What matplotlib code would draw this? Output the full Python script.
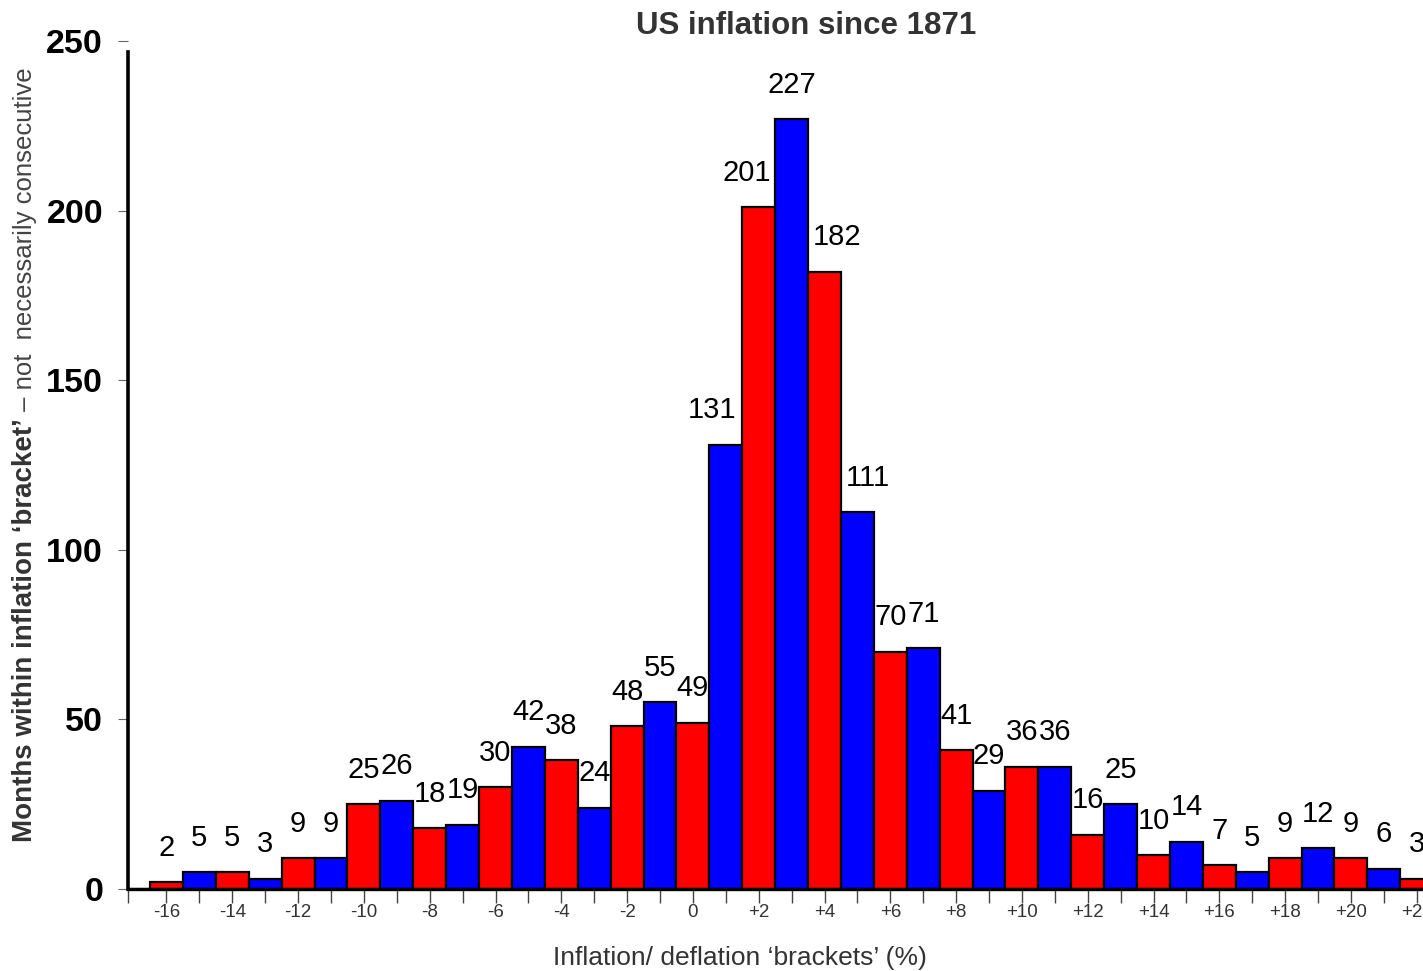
import matplotlib
matplotlib.use("Agg")
import matplotlib.pyplot as plt
from matplotlib.ticker import FixedLocator

plt.rcParams['font.family'] = ['Liberation Sans', 'DejaVu Sans']

# ---- data ----
brackets = list(range(-17, 23))
months = [0, 2, 5, 5, 3, 9, 9, 25, 26, 18, 19, 30, 42, 38, 24, 48, 55, 49,
          131, 201, 227, 182, 111, 70, 71, 41, 29, 36, 36, 16, 25, 10, 14,
          7, 5, 9, 12, 9, 6, 3]
major_ticks = list(range(-16, 23, 2))
major_labels = [("+%d" % v if v > 0 else "%d" % v) for v in major_ticks]
yticks = [0, 50, 100, 150, 200, 250]
title = "US inflation since 1871"
xlabel = "Inflation/ deflation \u2018brackets\u2019 (%)"
ylabel_bold = "Months within inflation \u2018bracket\u2019"
ylabel_reg = " \u2013 not  necessarily consecutive"

# label horizontal nudges (pixels) for crowded peak labels
label_dx = {1: -14, 2: -12, 4: 13, 5: 10}

W, H = 1423, 971
fig = plt.figure(figsize=(W / 100, H / 100), dpi=100)
ax_left, ax_bottom, ax_top = 128, 889, 41
ax = fig.add_axes([ax_left / W, (H - ax_bottom) / H, (W - ax_left) / W,
                   (ax_bottom - ax_top) / H])

colors = ['#0000FF' if (b % 2) else '#FF0000' for b in brackets]
ax.bar(brackets, months, width=1.0, color=colors, edgecolor='black',
       linewidth=1.6, zorder=2)

xmin, xmax = -17.17, 22.19
ax.set_xlim(xmin, xmax)
ax.set_ylim(0, 250)

for b, m in zip(brackets, months):
    if m <= 0:
        continue
    dx = label_dx.get(b, 0) * 0.72
    ax.annotate(str(m), (b, m), xytext=(dx, 19), textcoords='offset points',
                ha='center', va='baseline', fontsize=21, color='black',
                annotation_clip=False, zorder=3)

# spines
for s in ['top', 'right']:
    ax.spines[s].set_visible(False)
ax.spines['left'].set_linewidth(2.6)
ax.spines['bottom'].set_linewidth(2.4)
ax.spines['left'].set_bounds(0, 246.8)

# x ticks
ax.xaxis.set_major_locator(FixedLocator(major_ticks))
ax.set_xticklabels(major_labels)
ax.xaxis.set_minor_locator(FixedLocator([xmin] + list(range(-15, 23, 2))))
ax.tick_params(axis='x', which='both', direction='out', length=10, width=1.0,
               color='#444444', pad=1, labelsize=13.5, labelcolor='#333333')

# y ticks
ax.set_yticks(yticks)
ax.tick_params(axis='y', which='major', direction='out', length=7, width=0.8,
               color='#666666', pad=11, labelsize=24.5)
for lab in ax.get_yticklabels():
    lab.set_fontweight('bold')

ax.set_xlabel(xlabel, fontsize=19, color='#333333')
ax.xaxis.set_label_coords((740 - ax_left) / (W - ax_left), -(958 - ax_bottom) / (ax_bottom - ax_top), transform=ax.transAxes)
ax.xaxis.label.set_va('center')

fig.text(806 / W, 1 - 26 / H, title, ha='center', va='center',
         fontsize=22.5, fontweight='bold', color='#333333')

# y label: bold + regular parts
bx, by = 32 / W, 1 - 842 / H
t1 = fig.text(bx, by, ylabel_bold, rotation=90, rotation_mode='anchor',
              ha='left', va='baseline', fontsize=20, fontweight='bold',
              color='#333333')
fig.canvas.draw()
bb = t1.get_window_extent(fig.canvas.get_renderer())
fig.text(bx, bb.y1 / H, ylabel_reg, rotation=90, rotation_mode='anchor',
         ha='left', va='baseline', fontsize=18.5, color='#444444')

fig.savefig('out.png', dpi=100)
